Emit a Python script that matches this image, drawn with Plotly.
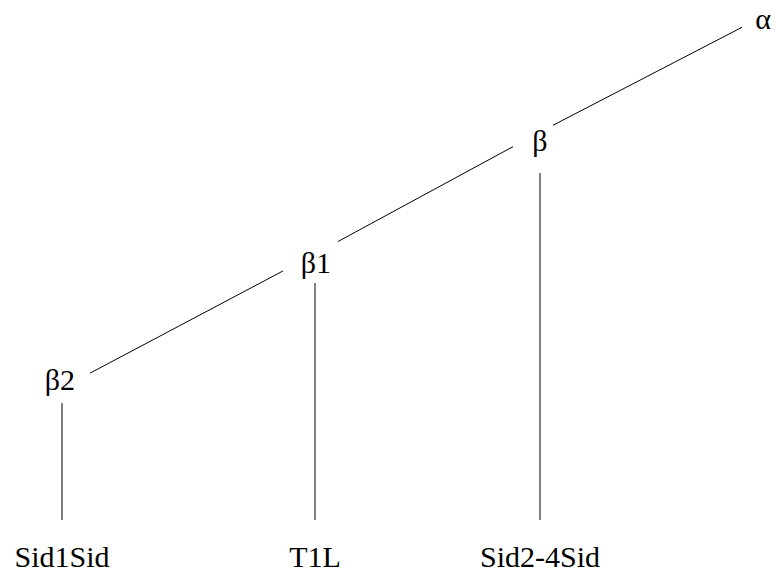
import plotly.graph_objects as go

# tree nodes (inner), from root down
node_labels = ['α', 'β', 'β1', 'β2']
node_x = [758, 540, 315, 62]
node_y = [19, 132, 254, 388]
node_parent = [None, 0, 1, 2]

# leaves hang under the inner nodes
leaf_labels = ['Sid1Sid', 'T1L', 'Sid2-4Sid']
leaf_parent = [3, 2, 1]

W, H = 776, 575
FONT = 'Liberation Serif, Times New Roman, serif'
LINE = dict(color='black', width=1)

fig = go.Figure()

# diagonal edges, trimmed so they stop short of the labels
gap_parent = {0: 16, 1: 27, 2: 32}
gap_child = {1: 13, 2: 23, 3: 28}
for i, p in enumerate(node_parent):
  if p is None:
    continue
  x0, y0 = node_x[p], node_y[p]
  x1, y1 = node_x[i], node_y[i]
  dx = x1 - x0
  t0 = gap_parent[p] / abs(dx)
  t1 = 1 - gap_child[i] / abs(dx)
  fig.add_trace(go.Scatter(
    x=[x0 + dx * t0, x0 + dx * t1],
    y=[y0 + (y1 - y0) * t0, y0 + (y1 - y0) * t1],
    mode='lines', line=LINE, hoverinfo='skip', showlegend=False
  ))

# vertical drops to the leaves
drop_gap = {1: 41, 2: 29, 3: 15}
leaf_top = 520
for lab, p in zip(leaf_labels, leaf_parent):
  fig.add_trace(go.Scatter(
    x=[node_x[p], node_x[p]],
    y=[node_y[p] + drop_gap[p], leaf_top],
    mode='lines', line=LINE, hoverinfo='skip', showlegend=False
  ))

# labels
label_dx = [5, 0, 1, -2]
label_dy = [2, 11, 11, -6]
fig.add_trace(go.Scatter(
  x=[x + d for x, d in zip(node_x, label_dx)],
  y=[y + d for y, d in zip(node_y, label_dy)],
  text=node_labels, mode='text',
  textfont=dict(family=FONT, size=30, color='black'),
  hoverinfo='skip', showlegend=False, cliponaxis=False
))
fig.add_trace(go.Scatter(
  x=[node_x[p] for p in leaf_parent],
  y=[559] * len(leaf_labels),
  text=leaf_labels, mode='text',
  textfont=dict(family=FONT, size=30, color='black'),
  hoverinfo='skip', showlegend=False, cliponaxis=False
))

fig.update_layout(
  width=W, height=H,
  margin=dict(l=0, r=0, t=0, b=0),
  plot_bgcolor='white', paper_bgcolor='white',
  xaxis=dict(range=[0, W], visible=False, fixedrange=True),
  yaxis=dict(range=[H, 0], visible=False, fixedrange=True),
)

# drop the default page margin so the figure sits at the window corner
fig.write_html(
  'out.html',
  config=dict(displayModeBar=False),
  post_script="document.body.style.margin='0';document.body.style.overflow='hidden';"
)
